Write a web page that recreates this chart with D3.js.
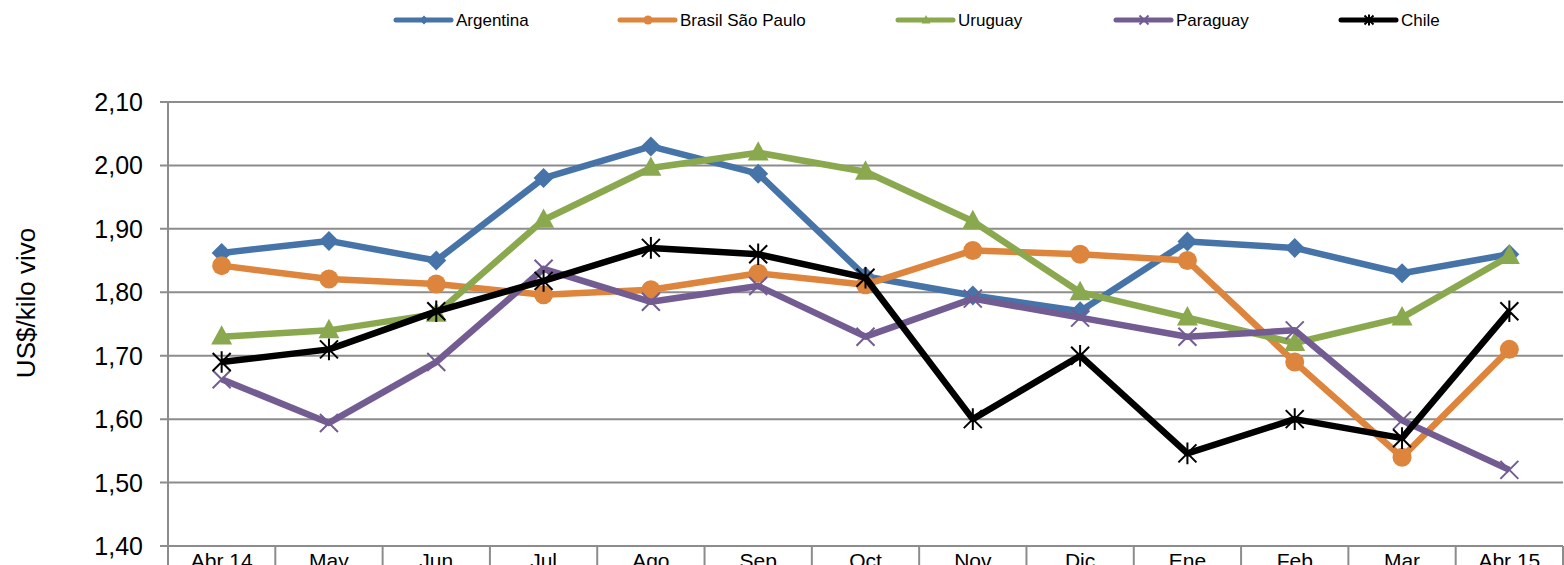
<!DOCTYPE html>
<html>
<head>
<meta charset="utf-8">
<script src="https://cdn.jsdelivr.net/npm/d3@7"></script>
<style>
  body { margin: 0; background: #fff; }
  text { font-family: "Liberation Sans", Arial, sans-serif; }
</style>
</head>
<body>
<div id="chart"></div>
<script>
const months = ["Abr 14", "May", "Jun", "Jul", "Ago", "Sep", "Oct", "Nov", "Dic", "Ene", "Feb", "Mar", "Abr 15"];
const yTicks = [1.4, 1.5, 1.6, 1.7, 1.8, 1.9, 2.0, 2.1];

const argentina = [1.862, 1.881, 1.85, 1.98, 2.03, 1.987, 1.825, 1.795, 1.77, 1.88, 1.87, 1.83, 1.86];
const brasil    = [1.842, 1.821, 1.813, 1.796, 1.804, 1.83, 1.812, 1.866, 1.86, 1.85, 1.69, 1.54, 1.71];
const uruguay   = [1.73, 1.74, 1.766, 1.914, 1.996, 2.02, 1.99, 1.912, 1.80, 1.76, 1.72, 1.76, 1.857];
const paraguay  = [1.663, 1.594, 1.69, 1.837, 1.785, 1.81, 1.73, 1.79, 1.76, 1.73, 1.74, 1.598, 1.52];
const chile     = [1.69, 1.71, 1.77, 1.818, 1.87, 1.86, 1.823, 1.60, 1.70, 1.546, 1.60, 1.57, 1.77];

const series = [
  { name: "Argentina", values: argentina, color: "#4674a9", marker: "diamond" },
  { name: "Brasil São Paulo", values: brasil, color: "#dd843d", marker: "circle" },
  { name: "Uruguay", values: uruguay, color: "#8aa84e", marker: "triangle" },
  { name: "Paraguay", values: paraguay, color: "#725c92", marker: "cross" },
  { name: "Chile", values: chile, color: "#000000", marker: "star" }
];

const width = 1564, height = 565;
const svg = d3.select("#chart").append("svg")
  .attr("width", width)
  .attr("height", height);

const plotLeft = 168, plotRight = 1563, plotTop = 102, plotBottom = 546;

const x = d3.scaleBand().domain(months).range([plotLeft, plotRight]).padding(0);
const y = d3.scaleLinear().domain([1.4, 2.1]).range([plotBottom, plotTop]);

const grid = "#8c8c8c";

// horizontal gridlines + ticks
svg.append("g").selectAll("line")
  .data(yTicks)
  .enter().append("line")
  .attr("x1", plotLeft - 8)
  .attr("x2", plotRight)
  .attr("y1", d => y(d))
  .attr("y2", d => y(d))
  .attr("stroke", grid)
  .attr("stroke-width", 2);

// y labels
svg.append("g").selectAll("text")
  .data(yTicks)
  .enter().append("text")
  .attr("x", 143)
  .attr("y", d => y(d) + 9)
  .attr("text-anchor", "end")
  .style("font-size", "25px")
  .attr("fill", "#000")
  .text(d => d3.format(".2f")(d).replace(".", ","));

// left axis line
svg.append("line")
  .attr("x1", plotLeft).attr("x2", plotLeft)
  .attr("y1", plotTop).attr("y2", height)
  .attr("stroke", grid).attr("stroke-width", 2);

// category separators below the plot
svg.append("g").selectAll("line")
  .data(months)
  .enter().append("line")
  .attr("x1", d => x(d) + x.bandwidth())
  .attr("x2", d => x(d) + x.bandwidth())
  .attr("y1", plotBottom)
  .attr("y2", height)
  .attr("stroke", grid)
  .attr("stroke-width", 2);

// x labels (partly cut off at the bottom, as in the original)
svg.append("g").selectAll("text")
  .data(months)
  .enter().append("text")
  .attr("x", d => x(d) + x.bandwidth() / 2)
  .attr("y", 568)
  .attr("text-anchor", "middle")
  .style("font-size", "21px")
  .text(d => d);

// axis title
svg.append("text")
  .attr("transform", "translate(35, 303) rotate(-90)")
  .attr("text-anchor", "middle")
  .style("font-size", "26px")
  .text("US$/kilo vivo");

function drawMarker(g, type, color, cx, cy, s) {
  if (type === "diamond") {
    g.append("path")
      .attr("d", `M${cx},${cy - s}L${cx + s},${cy}L${cx},${cy + s}L${cx - s},${cy}Z`)
      .attr("fill", color);
  } else if (type === "circle") {
    g.append("circle").attr("cx", cx).attr("cy", cy).attr("r", s).attr("fill", color);
  } else if (type === "triangle") {
    g.append("path")
      .attr("d", `M${cx},${cy - s * 1.1}L${cx + s},${cy + s * 0.75}L${cx - s},${cy + s * 0.75}Z`)
      .attr("fill", color);
  } else if (type === "cross") {
    g.append("path")
      .attr("d", `M${cx - s},${cy - s}L${cx + s},${cy + s}M${cx - s},${cy + s}L${cx + s},${cy - s}`)
      .attr("stroke", color).attr("stroke-width", 2).attr("fill", "none");
  } else if (type === "star") {
    g.append("path")
      .attr("d", `M${cx - s},${cy - s}L${cx + s},${cy + s}M${cx - s},${cy + s}L${cx + s},${cy - s}M${cx},${cy - s * 1.2}L${cx},${cy + s * 1.2}`)
      .attr("stroke", color).attr("stroke-width", 2).attr("fill", "none");
  }
}

const markerSize = { diamond: 10, circle: 9.5, triangle: 10.5, cross: 9, star: 9 };

const line = d3.line()
  .x((d, i) => x(months[i]) + x.bandwidth() / 2)
  .y(d => y(d));

series.forEach(s => {
  const g = svg.append("g");
  g.append("path")
    .datum(s.values)
    .attr("d", line)
    .attr("fill", "none")
    .attr("stroke", s.color)
    .attr("stroke-width", 6.5)
    .attr("stroke-linejoin", "round");
  s.values.forEach((v, i) => {
    drawMarker(g, s.marker, s.color, x(months[i]) + x.bandwidth() / 2, y(v), markerSize[s.marker]);
  });
});

// legend
const legendX = [396, 620, 898, 1116, 1341];
series.forEach((s, i) => {
  const lg = svg.append("g").attr("transform", `translate(${legendX[i]}, 20)`);
  lg.append("line")
    .attr("x1", 0).attr("x2", 55)
    .attr("y1", 0).attr("y2", 0)
    .attr("stroke", s.color)
    .attr("stroke-width", 5)
    .attr("stroke-linecap", "round");
  drawMarker(lg, s.marker, s.color, 28, 0, 4.5);
  lg.append("text")
    .attr("x", 60)
    .attr("y", 6)
    .style("font-size", "17px")
    .text(s.name);
});
</script>
</body>
</html>
